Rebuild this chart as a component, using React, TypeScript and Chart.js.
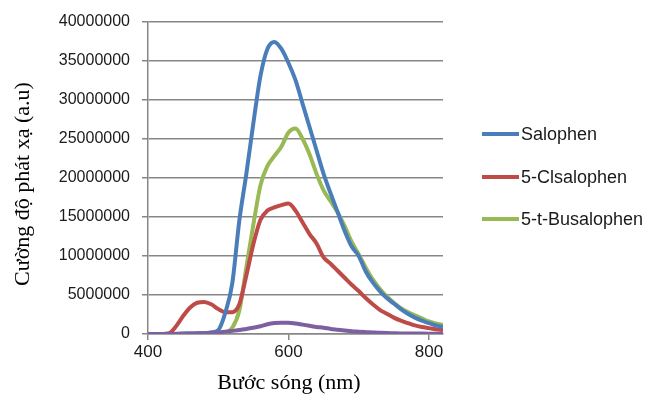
import React, { useEffect, useRef } from "react";
import { Chart, registerables } from "chart.js";

Chart.register(...registerables);

const wavelengths = [
  400, 410, 420, 430, 440, 450, 460, 470, 480, 490, 500, 510, 520, 530, 540, 550, 560, 570, 580, 590,
  600, 610, 620, 630, 640, 650, 660, 670, 680, 690, 700, 710, 720, 730, 740, 750, 760, 770, 780, 790,
  800, 810, 820,
];

// values in millions
const salophen = [
  0, 0, 0, 0, 0, 0.05, 0.05, 0.1, 0.1, 0.2, 0.5, 2.7, 6.5, 14.5, 20.5, 27, 33, 36.5, 37.4, 36.5,
  34.7, 32.5, 29.5, 26.5, 23.5, 20.5, 18, 15.6, 13.2, 11.2, 10, 8, 6.6, 5.5, 4.6, 3.9, 3.2, 2.6, 2.1, 1.7,
  1.4, 1.1, 0.9,
];
const clSalophen = [
  0, 0, 0, 0.1, 1, 2.3, 3.4, 4, 4.1, 3.8, 3.2, 2.8, 2.8, 3.8, 7.5, 11.5, 14.6, 15.8, 16.2, 16.5,
  16.7, 15.8, 14.3, 12.8, 11.6, 9.8, 9, 8.1, 7.2, 6.3, 5.5, 4.6, 3.8, 3.1, 2.6, 2.1, 1.7, 1.4, 1.1, 0.9,
  0.75, 0.6, 0.5,
];
const tBuSalophen = [
  0, 0, 0, 0, 0, 0, 0, 0.05, 0.05, 0.1, 0.1, 0.2, 0.8, 3, 8.5, 14, 19, 21.5, 22.8, 24,
  25.8, 26.3, 25, 23, 20.5, 18.4, 17, 15.6, 13.8, 11.8, 10.2, 8.5, 7, 5.8, 4.8, 4, 3.3, 2.8, 2.4, 2,
  1.6, 1.35, 1.15,
];
const fourthSeries = [
  0, 0, 0, 0, 0.02, 0.04, 0.06, 0.08, 0.1, 0.15, 0.2, 0.3, 0.4, 0.5, 0.65, 0.8, 1.0, 1.25, 1.4, 1.45,
  1.45, 1.35, 1.2, 1.05, 0.9, 0.8, 0.65, 0.55, 0.45, 0.35, 0.3, 0.25, 0.2, 0.15, 0.12, 0.1, 0.08, 0.07, 0.06, 0.05,
  0.04, 0.03, 0.03,
];

const seriesNames = ["Salophen", "5-Clsalophen", "5-t-Busalophen", ""];
const seriesColors = ["#4A7EBB", "#BE4B48", "#98B954", "#7D60A0"];
const xTicks = [400, 600, 800];
const yMax = 40000000;
const yStep = 5000000;
const xTitle = "Bước sóng (nm)";
const yTitle = "Cường độ phát xạ (a.u)";

export default function App() {
  const ref = useRef<HTMLCanvasElement | null>(null);

  useEffect(() => {
    document.body.style.margin = "0";
    const canvas = ref.current;
    if (!canvas) return;
    const all = [salophen, clSalophen, tBuSalophen, fourthSeries];
    const datasets = all.map((vals, i) => ({
      label: seriesNames[i],
      data: wavelengths.map((w, j) => ({ x: w, y: vals[j] * 1000000 })),
      borderColor: seriesColors[i],
      backgroundColor: seriesColors[i],
      borderWidth: 4,
      pointRadius: 0,
      cubicInterpolationMode: "monotone" as const,
      order: i === 3 ? -1 : i,
    }));

    const overlay = {
      id: "overlay",
      afterDraw(chart: any) {
        const ctx = chart.ctx;
        ctx.save();
        // legend
        const ys = [134, 177, 219];
        for (let i = 0; i < 3; i++) {
          ctx.strokeStyle = seriesColors[i];
          ctx.lineWidth = 4;
          ctx.beginPath();
          ctx.moveTo(482, ys[i]);
          ctx.lineTo(519, ys[i]);
          ctx.stroke();
          ctx.fillStyle = "#1a1a1a";
          ctx.font = "18px 'Liberation Sans', Arial, sans-serif";
          ctx.textAlign = "left";
          ctx.textBaseline = "middle";
          ctx.fillText(seriesNames[i], 521, ys[i] + 1);
        }
        // axis titles
        ctx.fillStyle = "#000";
        ctx.font = "22px 'Liberation Serif', 'Times New Roman', serif";
        ctx.textAlign = "center";
        ctx.textBaseline = "middle";
        ctx.fillText(xTitle, 289, 383);
        ctx.translate(23, 184);
        ctx.rotate(-Math.PI / 2);
        ctx.fillText(yTitle, 0, 0);
        ctx.restore();
      },
    };

    const chart = new Chart(canvas, {
      type: "line",
      data: { datasets },
      options: {
        animation: false,
        responsive: false,
        devicePixelRatio: 1,
        layout: { padding: { left: 0, right: 204, top: 21, bottom: 0 } },
        plugins: { legend: { display: false }, tooltip: { enabled: false } },
        scales: {
          x: {
            type: "linear",
            min: 400,
            max: 820,
            afterFit: (s: any) => {
              s.height = 61;
            },
            afterBuildTicks: (s: any) => {
              s.ticks = xTicks.map((v) => ({ value: v }));
            },
            ticks: {
              font: { family: "'Liberation Sans', Arial, sans-serif", size: 17 },
              color: "#1a1a1a",
              padding: 2,
              maxRotation: 0,
              callback: (v: any) => String(v),
            },
            grid: { drawOnChartArea: false, drawTicks: true, tickLength: 6, color: "#878787", lineWidth: 1.5 },
            border: { color: "#878787", width: 1.5 },
          },
          y: {
            min: 0,
            max: yMax,
            afterFit: (s: any) => {
              s.width = 148;
            },
            ticks: {
              stepSize: yStep,
              font: { family: "'Liberation Sans', Arial, sans-serif", size: 16 },
              color: "#1a1a1a",
              padding: 12,
              callback: (v: any) => String(v),
            },
            grid: { color: "#878787", lineWidth: 1.5, tickLength: 6 },
            border: { color: "#878787", width: 1.5 },
          },
        },
      },
      plugins: [overlay],
    });
    return () => chart.destroy();
  }, []);

  return (
    <div style={{ width: 647, height: 395, position: "relative", background: "#fff" }}>
      <canvas ref={ref} width={647} height={395} style={{ width: 647, height: 395 }} />
    </div>
  );
}
